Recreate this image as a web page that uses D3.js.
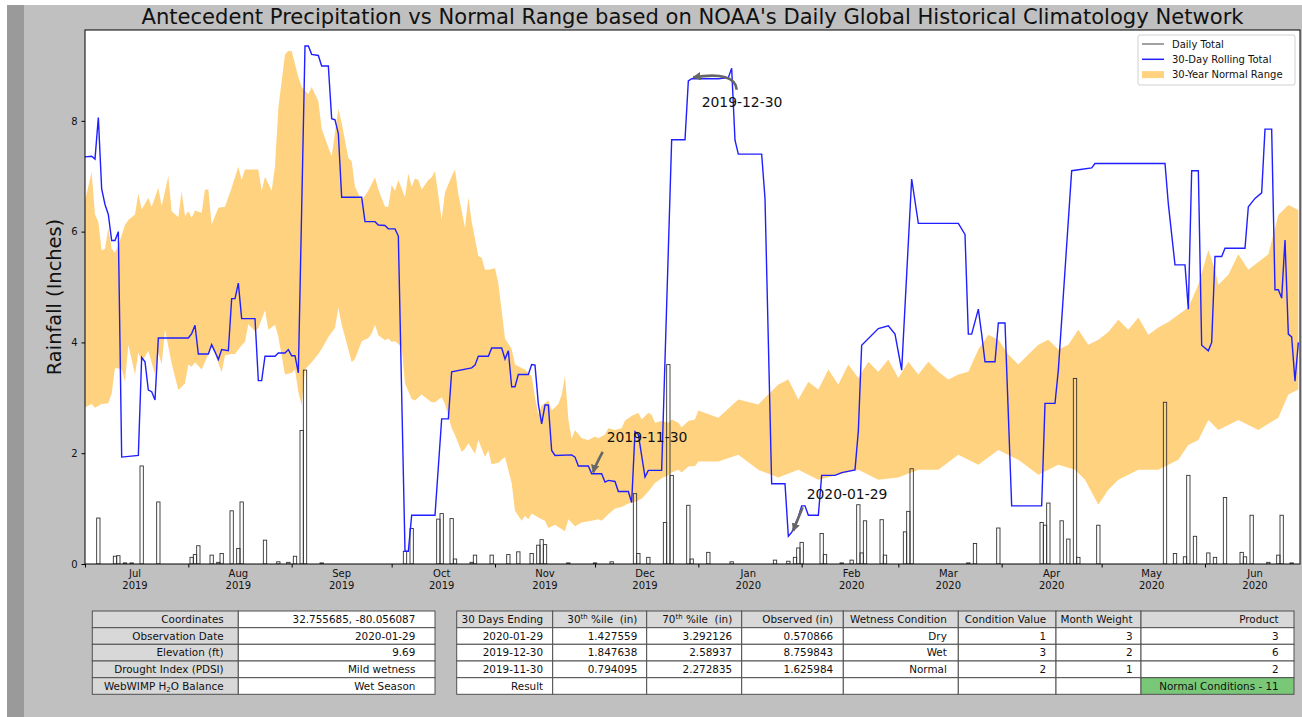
<!DOCTYPE html>
<html>
<head>
<meta charset="utf-8">
<script src="https://cdn.jsdelivr.net/npm/d3@7"></script>
<style>
  body { margin: 0; background: #fff; }
  text { font-family: "DejaVu Sans", sans-serif; white-space: pre; }
</style>
</head>
<body>
<script>
// days are counted from 2019-07-01
const startDate = new Date(2019, 6, 1);

// 30-day rolling total [day, inches]
const rolling = [
  [0,7.35],[2,7.36],[3,7.31],[4,8.06],[5,6.77],[6,6.49],[7,6.31],[8,5.84],[9,5.84],[10,6.0],
  [11,1.93],[16,1.96],[17,3.73],[18,3.65],[19,3.14],[20,3.11],[21,2.96],[22,4.08],[31,4.08],
  [32,4.16],[33,4.31],[34,3.79],[37,3.79],[38,3.96],[39,3.83],[40,3.69],[41,3.87],[43,3.85],
  [44,4.79],[45,4.79],[46,5.07],[47,4.43],[51,4.43],[52,3.31],[53,3.31],[54,3.75],[57,3.75],
  [58,3.81],[60,3.81],[61,3.87],[62,3.76],[63,3.76],[64,3.45],[66,9.35],[67,9.35],[68,9.2],
  [70,9.18],[71,8.99],[73,8.99],[74,8.04],[75,8.02],[76,7.77],[77,6.62],[83,6.62],[84,6.18],
  [87,6.18],[88,6.12],[90,6.11],[91,6.05],[93,6.05],[94,5.92],[96,0.23],[97,0.23],[98,0.88],
  [105,0.88],[107,2.62],[109,2.62],[110,3.47],[116,3.54],[117,3.59],[118,3.75],[121,3.75],
  [122,3.9],[125,3.9],[126,3.7],[127,3.85],[128,3.2],[129,3.2],[130,3.42],[133,3.42],[134,3.6],
  [135,3.59],[136,2.89],[137,2.53],[138,2.87],[139,2.87],[140,2.05],[141,1.96],[146,1.97],
  [147,1.93],[148,1.77],[151,1.77],[152,1.63],[155,1.63],[156,1.48],[157,1.51],[159,1.49],
  [160,1.31],[163,1.31],[164,1.11],[165,2.39],[166,2.34],[168,1.57],[169,1.69],[173,1.69],
  [176,7.66],[180,7.66],[181,8.72],[182,8.76],[190,8.76],[193,8.78],[194,8.95],[195,7.65],
  [196,7.4],[203,7.4],[204,6.6],[206,1.45],[210,1.45],[211,0.5],[212,0.57],[214,0.85],[215,1.05],
  [216,1.05],[217,0.88],[220,0.88],[221,1.6],[225,1.6],[227,1.65],[231,1.7],[232,2.4],[233,3.95],
  [238,4.25],[241,4.3],[243,4.15],[245,3.5],[248,6.95],[250,6.15],[262,6.15],[264,5.95],
  [265,4.15],[266,4.15],[268,4.6],[269,4.15],[270,3.65],[273,3.65],[274,4.35],[276,4.35],
  [278,1.05],[287,1.05],[288,2.9],[291,2.9],[292,3.5],[296,7.1],[302,7.15],[303,7.23],
  [324,7.23],[325,6.5],[327,5.4],[330,5.4],[331,4.6],[332,7.1],[334,7.1],[335,3.95],[337,3.85],
  [338,4.0],[339,5.55],[341,5.55],[342,5.7],[348,5.7],[349,6.45],[351,6.6],[353,6.7],[354,7.85],
  [356,7.85],[357,4.95],[358,4.95],[359,4.8],[360,5.85],[361,4.15],[362,4.1],[363,3.3],[364,4.0]
];

// daily totals [day, inches]
const daily = [
  [4,0.83],[9,0.14],[10,0.15],[12,0.02],[14,0.02],[17,1.77],[22,1.12],[32,0.12],[33,0.17],
  [34,0.33],[38,0.16],[40,0.03],[41,0.19],[44,0.96],[46,0.28],[47,1.12],[54,0.43],[58,0.04],
  [61,0.03],[63,0.14],[65,2.41],[66,3.5],[71,0.02],[96,0.23],[98,0.64],[106,0.81],[107,0.91],
  [110,0.82],[111,0.09],[116,0.03],[117,0.16],[122,0.16],[127,0.17],[130,0.22],[134,0.19],
  [136,0.34],[137,0.44],[138,0.35],[145,0.02],[153,0.02],[158,0.04],[165,1.27],[166,0.19],
  [169,0.12],[174,0.75],[175,3.6],[176,1.6],[181,1.06],[182,0.09],[187,0.21],[194,0.04],
  [207,0.07],[211,0.05],[213,0.12],[214,0.29],[215,0.39],[221,0.55],[222,0.17],[227,0.02],
  [230,0.07],[232,1.07],[233,0.2],[234,0.78],[239,0.8],[240,0.16],[246,0.58],[247,0.95],
  [248,1.72],[265,0.02],[267,0.37],[274,0.65],[287,0.75],[288,0.7],[289,1.1],[293,0.78],
  [295,0.45],[297,3.35],[298,0.12],[304,0.7],[324,2.92],[327,0.19],[330,0.13],[331,1.6],
  [333,0.5],[337,0.2],[339,0.12],[342,1.2],[347,0.21],[348,0.13],[350,0.88],[355,0.03],
  [358,0.16],[359,0.88],[362,0.02]
];

// 30-year normal range, upper (70th) and lower (30th) edges [day, inches]
const normalHigh = [
  [0,6.56],[2,7.07],[3,6.31],[4,6.18],[5,5.66],[6,5.69],[7,6.06],[8,5.69],[9,5.62],[10,5.75],
  [12,6.12],[13,6.21],[15,6.31],[16,6.69],[17,6.4],[19,6.61],[20,6.45],[22,6.79],[23,6.46],
  [25,7.0],[26,6.37],[28,6.26],[29,6.73],[30,6.28],[31,6.37],[32,6.25],[33,6.38],[35,6.34],
  [36,6.76],[37,6.76],[38,6.13],[40,6.43],[42,6.45],[44,6.79],[46,7.17],[47,6.93],[48,7.12],
  [52,7.12],[53,6.74],[54,6.99],[56,6.74],[57,7.18],[58,8.23],[60,9.2],[61,9.26],[62,9.26],
  [64,8.79],[65,8.61],[67,8.48],[68,8.61],[70,8.36],[71,7.86],[73,7.52],[74,7.36],[76,8.22],
  [77,7.96],[79,7.33],[80,7.27],[81,6.81],[83,6.56],[85,6.74],[87,6.98],[88,6.76],[90,6.45],
  [91,6.45],[92,6.84],[93,6.74],[94,6.93],[96,6.62],[97,7.05],[98,6.81],[99,6.96],[100,6.93],
  [101,6.76],[103,6.93],[104,6.98],[105,7.09],[107,6.22],[108,6.71],[110,7.0],[111,7.12],
  [112,6.68],[114,6.07],[115,6.62],[116,6.18],[118,5.56],[119,5.53],[120,5.31],[121,5.31],
  [123,5.34],[124,5.07],[125,4.57],[126,4.07],[128,3.88],[129,3.6],[131,3.54],[132,3.51],
  [134,3.39],[135,3.01],[136,2.7],[137,2.86],[139,2.95],[140,2.77],[142,2.89],[143,3.05],
  [144,3.4],[145,2.61],[146,2.26],[147,2.42],[149,2.27],[151,2.24],[153,2.3],[154,2.27],
  [156,2.34],[157,2.45],[159,2.42],[161,2.45],[162,2.59],[164,2.67],[166,2.73],[167,2.61],
  [169,2.73],[170,2.69],[171,2.55],[173,2.58],[175,2.55],[176,2.61],[178,2.55],[179,2.47],
  [181,2.58],[183,2.61],[184,2.77],[190,2.64],[196,2.97],[202,2.88],[208,3.24],[211,3.33],
  [214,2.97],[217,3.29],[220,3.15],[223,3.51],[226,3.24],[229,3.6],[232,3.36],[235,3.65],
  [238,3.47],[241,3.69],[244,3.36],[247,3.65],[250,3.42],[253,3.65],[256,3.47],[259,3.33],
  [262,3.42],[265,3.47],[268,3.87],[271,4.14],[274,4.05],[277,3.78],[280,3.6],[283,3.78],
  [286,3.96],[289,4.05],[292,3.87],[295,3.96],[298,4.23],[301,3.96],[304,4.05],[307,4.19],
  [310,4.41],[313,4.23],[316,4.45],[319,4.14],[322,4.27],[325,4.37],[328,4.5],[331,4.63],
  [334,5.04],[337,5.67],[339,5.31],[340,5.04],[343,5.22],[346,5.59],[349,5.31],[352,5.45],
  [355,5.59],[358,6.3],[361,6.48],[364,6.39]
];
const normalLow = [
  [0,2.83],[2,2.89],[3,2.82],[5,2.89],[7,2.9],[8,3.08],[9,3.54],[11,3.52],[12,3.29],[13,3.96],
  [15,3.42],[16,3.82],[17,3.64],[19,3.85],[21,3.42],[22,3.82],[23,3.6],[24,4.23],[26,3.62],
  [28,3.14],[30,3.26],[31,3.6],[32,3.56],[33,3.64],[35,3.51],[38,3.92],[39,3.79],[41,3.46],
  [42,3.77],[44,3.79],[45,3.79],[47,3.95],[48,4.01],[49,4.33],[51,4.2],[52,4.26],[54,4.58],
  [55,4.23],[57,4.32],[58,4.1],[59,3.76],[60,3.42],[62,3.45],[63,3.51],[64,3.11],[65,2.86],
  [66,3.51],[68,3.64],[70,3.79],[71,3.88],[73,4.1],[75,4.26],[76,4.63],[77,4.32],[79,3.88],
  [80,3.64],[81,3.7],[83,4.02],[85,4.08],[86,4.16],[87,4.32],[88,4.13],[90,4.04],[91,4.07],
  [92,4.01],[93,4.02],[95,3.92],[96,3.26],[98,2.98],[99,2.95],[101,3.06],[102,3.01],[104,2.92],
  [105,2.92],[107,3.01],[108,2.89],[110,2.45],[111,2.33],[113,2.02],[114,2.08],[115,2.18],
  [117,1.99],[118,2.24],[120,1.93],[121,2.05],[122,1.8],[124,1.83],[126,1.93],[128,1.46],
  [129,0.96],[131,0.78],[132,0.87],[133,0.81],[134,0.91],[136,0.84],[138,0.78],[139,0.65],
  [141,0.71],[142,0.67],[144,0.59],[145,0.81],[147,0.68],[149,0.75],[152,0.78],[154,0.81],
  [155,0.78],[157,0.9],[159,1.0],[161,1.03],[163,1.09],[165,1.12],[167,1.18],[169,1.31],
  [171,1.46],[173,1.55],[175,1.6],[176,1.65],[178,1.7],[179,1.65],[181,1.76],[183,1.77],
  [184,1.85],[190,1.85],[196,1.97],[202,1.7],[208,1.56],[214,1.7],[220,1.52],[226,1.61],
  [232,1.7],[238,1.52],[244,1.56],[250,1.7],[256,1.7],[262,1.97],[268,1.79],[274,2.06],
  [280,1.88],[286,1.61],[292,1.79],[297,1.7],[300,1.52],[304,1.07],[307,1.34],[310,1.52],
  [316,1.7],[322,1.7],[328,1.88],[331,2.15],[334,2.24],[337,2.6],[340,2.42],[346,2.6],
  [352,2.42],[358,2.64],[361,3.06],[364,3.15]
];

const yTicks = [0, 2, 4, 6, 8];

// tables
const infoLabels = ["Coordinates", "Observation Date", "Elevation (ft)", "Drought Index (PDSI)", "WebWIMP H_{2}O Balance"];
const infoValues = ["32.755685, -80.056087", "2020-01-29", "9.69", "Mild wetness", "Wet Season"];
const headers = ["30 Days Ending", "30^{th} %ile  (in)", "70^{th} %ile  (in)", "Observed (in)", "Wetness Condition", "Condition Value", "Month Weight", "Product"];
const endDates = ["2020-01-29", "2019-12-30", "2019-11-30"];
const pct30 = ["1.427559", "1.847638", "0.794095"];
const pct70 = ["3.292126", "2.58937", "2.272835"];
const observed = [0.570866, 8.759843, 1.625984];
const wetness = ["Dry", "Wet", "Normal"];
const condValue = [1, 3, 2];
const monthWeight = [3, 2, 1];
const product = [3, 6, 2];
const resultText = "Normal Conditions - 11";

const W = 1302, H = 717;
const plot = { left: 85, right: 1300, top: 30, bottom: 564 };

const svg = d3.select("body").append("svg").attr("width", W).attr("height", H);

// figure background
svg.append("rect").attr("x", 7).attr("y", 5).attr("width", W - 7).attr("height", H - 5).attr("fill", "#c0c0c0");
svg.append("rect").attr("x", 7).attr("y", 5).attr("width", 17).attr("height", H - 5).attr("fill", "#9a9a9a");
svg.append("rect").attr("x", plot.left).attr("y", plot.top)
  .attr("width", plot.right - plot.left).attr("height", plot.bottom - plot.top).attr("fill", "#fff");

const dayDate = (d) => d3.timeDay.offset(startDate, d);

const x = d3.scaleTime()
  .domain([startDate, new Date(2020, 5, 29, 12)])
  .range([plot.left, plot.right]);
const y = d3.scaleLinear().domain([0, 9.64]).range([plot.bottom, plot.top]);

const g = svg.append("g");
svg.append("clipPath").attr("id", "clip").append("rect")
  .attr("x", plot.left).attr("y", plot.top)
  .attr("width", plot.right - plot.left).attr("height", plot.bottom - plot.top);
const inner = g.append("g").attr("clip-path", "url(#clip)");

// normal range band (upper edge forward, lower edge back)
const bandLine = d3.line().x(d => x(dayDate(d[0]))).y(d => y(d[1]));
inner.append("path")
  .attr("d", bandLine(normalHigh.concat(normalLow.slice().reverse())) + "Z")
  .attr("fill", "#ffd280");

// daily totals
inner.selectAll("rect.daily")
  .data(daily)
  .join("rect")
  .attr("class", "daily")
  .attr("x", d => (x(dayDate(d[0] - 1)) + x(dayDate(d[0]))) / 2)
  .attr("width", d => x(dayDate(d[0] + 1)) - x(dayDate(d[0])))
  .attr("y", d => y(d[1]))
  .attr("height", d => y(0) - y(d[1]))
  .attr("fill", "none")
  .attr("stroke", "#333")
  .attr("stroke-width", 0.9);

// rolling total
inner.append("path")
  .datum(rolling)
  .attr("d", d3.line().x(d => x(dayDate(d[0]))).y(d => y(d[1])))
  .attr("fill", "none")
  .attr("stroke", "#1f1fff")
  .attr("stroke-width", 1.4);

// axes
const months = d3.timeMonth.range(startDate, new Date(2020, 6, 1));
const xAxis = d3.axisBottom(x).tickValues(months).tickFormat("").tickSize(3.5);
const gx = g.append("g").attr("transform", `translate(0,${plot.bottom})`).call(xAxis);
gx.select(".domain").remove();
gx.selectAll("line").attr("stroke", "#000");

const labels = g.append("g").selectAll("text")
  .data(months.map(m => new Date(m.getFullYear(), m.getMonth(), 16)))
  .join("text")
  .attr("x", d => x(d))
  .attr("text-anchor", "middle")
  .attr("font-size", 10)
  .attr("fill", "#111");
labels.append("tspan").attr("x", d => x(d)).attr("y", 577).text(d3.timeFormat("%b"));
labels.append("tspan").attr("x", d => x(d)).attr("y", 589).text(d3.timeFormat("%Y"));

const yAxis = d3.axisLeft(y).tickValues(yTicks).tickSize(3.5).tickPadding(4);
const gy = g.append("g").attr("transform", `translate(${plot.left},0)`).call(yAxis);
gy.select(".domain").remove();
gy.selectAll("text").attr("font-family", "DejaVu Sans").attr("font-size", 10).attr("fill", "#111");

g.append("rect").attr("x", plot.left).attr("y", plot.top)
  .attr("width", plot.right - plot.left).attr("height", plot.bottom - plot.top)
  .attr("fill", "none").attr("stroke", "#000").attr("stroke-width", 1);

// title and y label
svg.append("text").attr("x", (plot.left + plot.right) / 2).attr("y", 23.5)
  .attr("text-anchor", "middle").attr("font-size", 21.1).attr("fill", "#111")
  .text("Antecedent Precipitation vs Normal Range based on NOAA's Daily Global Historical Climatology Network");
svg.append("text").attr("transform", `translate(61,${(plot.top + plot.bottom) / 2}) rotate(-90)`)
  .attr("text-anchor", "middle").attr("font-size", 19.4).attr("fill", "#111")
  .text("Rainfall (Inches)");

// annotations
const defs = svg.append("defs");
defs.append("marker").attr("id", "head").attr("viewBox", "0 0 10 10")
  .attr("refX", 9).attr("refY", 5).attr("markerWidth", 3.2).attr("markerHeight", 3.2)
  .attr("orient", "auto").attr("markerUnits", "strokeWidth")
  .append("path").attr("d", "M0,0L10,5L0,10Z").attr("fill", "#666");

const annoLayout = [
  { tx: 15, ty: -33, sx: 11, sy: -25, cx: 4, cy: -8 },
  { tx: 10, ty: 28, sx: 45, sy: 11, cx: 44, cy: -8 },
  { tx: 15, ty: -32, sx: 11, sy: -22, cx: 3, cy: -7 }
];
endDates.forEach((dt, i) => {
  const px = x(d3.timeParse("%Y-%m-%d")(dt));
  const py = y(observed[i]);
  const L = annoLayout[i];
  svg.append("path")
    .attr("d", `M${px + L.sx},${py + L.sy}Q${px + L.cx},${py + L.cy} ${px + 1.5},${py - 1.5}`)
    .attr("fill", "none").attr("stroke", "#666").attr("stroke-width", 2.6)
    .attr("marker-end", "url(#head)");
  svg.append("text").attr("x", px + L.tx).attr("y", py + L.ty)
    .attr("font-size", 13.9).attr("fill", "#111").text(dt);
});

// legend
const leg = svg.append("g");
leg.append("rect").attr("x", 1138).attr("y", 35).attr("width", 157).attr("height", 50)
  .attr("rx", 2).attr("fill", "#fff").attr("stroke", "#d0d0d0");
const legItems = [
  { label: "Daily Total", kind: "line", color: "#444" },
  { label: "30-Day Rolling Total", kind: "line", color: "#1f1fff" },
  { label: "30-Year Normal Range", kind: "patch", color: "#ffd280" }
];
legItems.forEach((it, i) => {
  const cy = 44 + i * 15.3;
  if (it.kind === "line") {
    leg.append("line").attr("x1", 1142).attr("x2", 1164).attr("y1", cy).attr("y2", cy)
      .attr("stroke", it.color).attr("stroke-width", i === 1 ? 1.5 : 1);
  } else {
    leg.append("rect").attr("x", 1142).attr("y", cy - 3.5).attr("width", 22).attr("height", 7).attr("fill", it.color);
  }
  leg.append("text").attr("x", 1172).attr("y", cy + 3.6).attr("font-size", 10).attr("fill", "#111").text(it.label);
});

// rich text: ^{..} superscript, _{..} subscript
function richText(sel, str) {
  const parts = str.split(/(\^\{[^}]*\}|_\{[^}]*\})/).filter(s => s.length);
  let shift = 0;
  parts.forEach(p => {
    let dy = 0, size = null, txt = p;
    if (p.startsWith("^{")) { txt = p.slice(2, -1); dy = -4; size = 7; }
    else if (p.startsWith("_{")) { txt = p.slice(2, -1); dy = 2.5; size = 7; }
    const t = sel.append("tspan").text(txt).attr("dy", dy - shift);
    if (size) t.attr("font-size", size);
    shift = dy;
  });
}

function drawTable(colX, rowY, cells) {
  const tg = svg.append("g");
  cells.forEach((row, r) => {
    row.forEach((c, k) => {
      const x0 = colX[k], x1 = colX[k + 1], y0 = rowY[r], y1 = rowY[r + 1];
      tg.append("rect").attr("x", x0).attr("y", y0).attr("width", x1 - x0).attr("height", y1 - y0)
        .attr("fill", c.fill).attr("stroke", "#505050").attr("stroke-width", 1);
      const t = tg.append("text").attr("x", x1 - (x1 - x0) * 0.1).attr("y", (y0 + y1) / 2 + 3.8)
        .attr("xml:space", "preserve")
        .attr("text-anchor", "end").attr("font-size", 10.4).attr("fill", "#111");
      richText(t, String(c.text));
    });
  });
}

const rowY = [611, 627.7, 644.3, 661, 677.7, 694.3];
const grey = "#d8d8d8", white = "#fff";

drawTable([92.3, 238.3, 435], rowY,
  infoLabels.map((l, i) => [{ text: l, fill: grey }, { text: infoValues[i], fill: white }]));

const mainRows = [headers.map(h => ({ text: h, fill: grey }))];
endDates.forEach((d, i) => {
  mainRows.push([d, pct30[i], pct70[i], observed[i].toFixed(6), wetness[i], condValue[i], monthWeight[i], product[i]]
    .map(v => ({ text: v, fill: white })));
});
mainRows.push(["Result", "", "", "", "", "", "", resultText]
  .map((v, k) => ({ text: v, fill: k === 7 ? "#78c878" : white })));
drawTable([456.7, 552.7, 646.7, 741.7, 843.3, 958.3, 1056, 1141, 1294], rowY, mainRows);
</script>
</body>
</html>
